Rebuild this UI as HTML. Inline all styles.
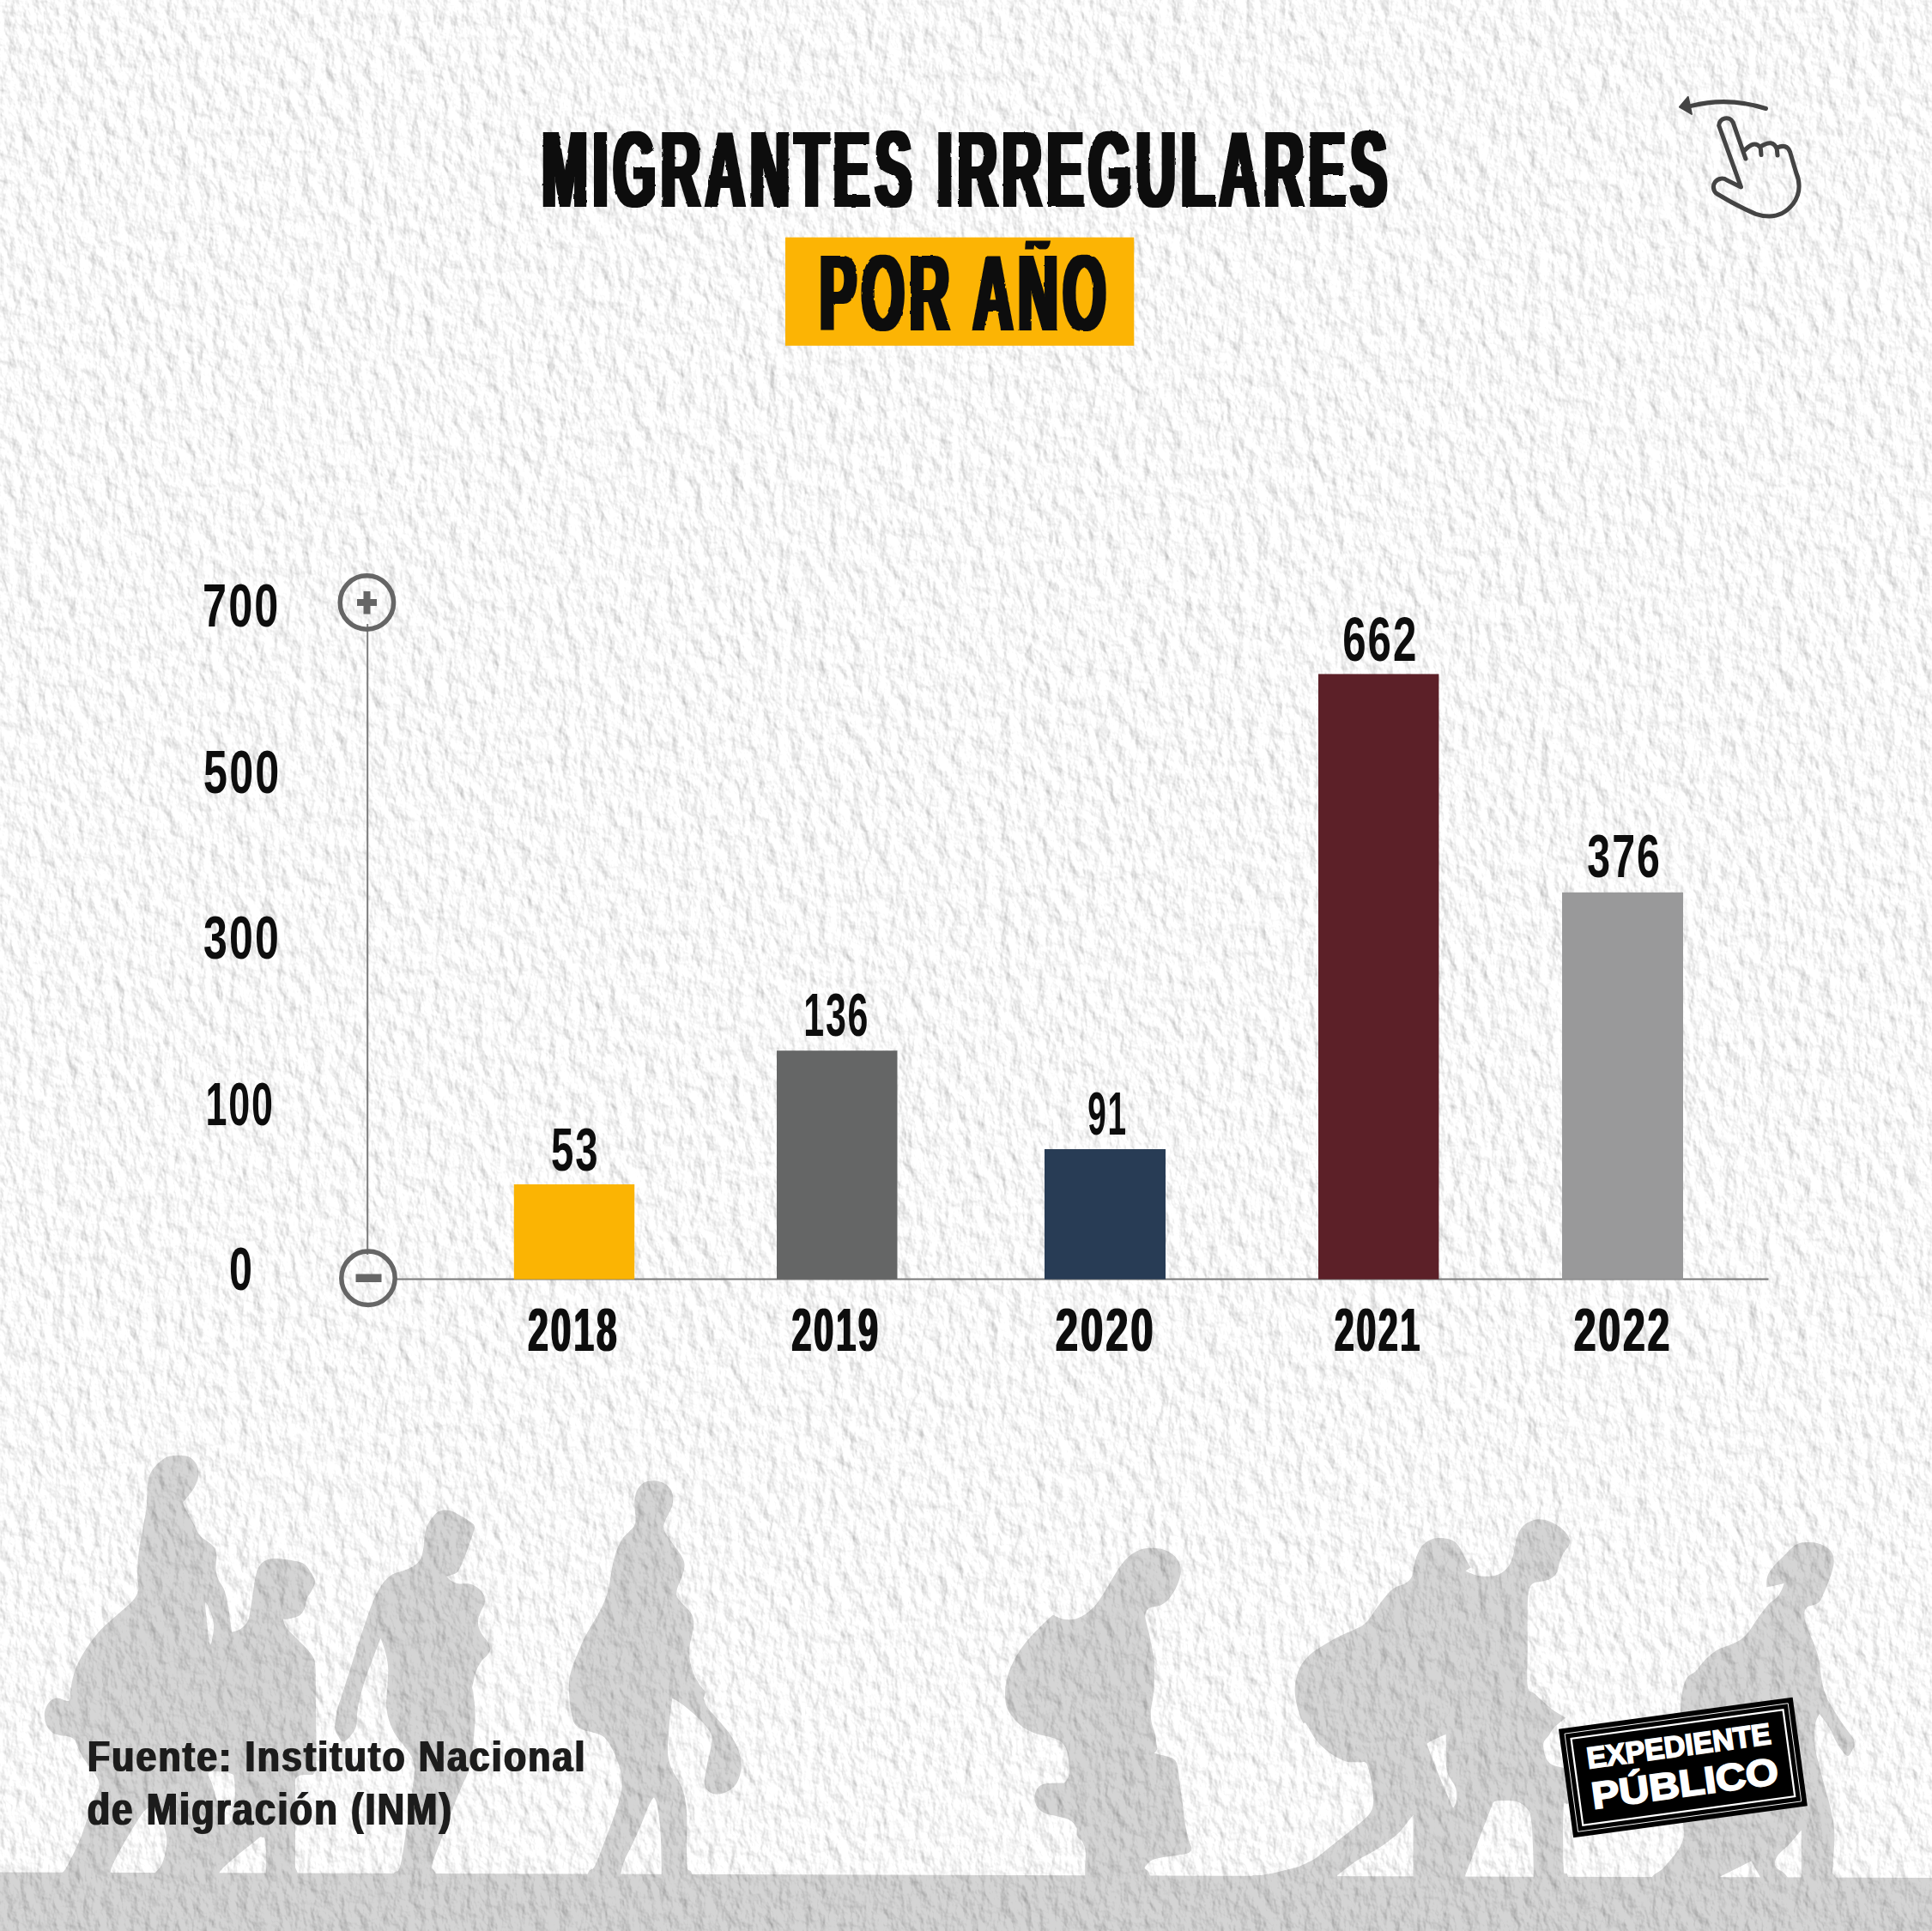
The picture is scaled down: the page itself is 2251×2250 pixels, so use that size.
<!DOCTYPE html>
<html lang="es"><head><meta charset="utf-8"><title>Migrantes irregulares por año</title>
<style>
html,body{margin:0;padding:0;background:#f4f4f4;}
body{width:2251px;height:2250px;overflow:hidden;}
svg{display:block;}
text{font-family:"Liberation Sans",sans-serif;font-weight:700;}
</style></head><body>
<svg width="2251" height="2250" viewBox="0 0 2251 2250">
<defs>
<filter id="d0_4" x="-5%" y="-20%" width="110%" height="140%"><feMorphology operator="dilate" radius="0.4 0" result="m"/><feTurbulence type="fractalNoise" baseFrequency="0.09" numOctaves="2" seed="4" result="t"/><feDisplacementMap in="m" in2="t" scale="1.3" xChannelSelector="R" yChannelSelector="G"/></filter>
<filter id="d1_2" x="-5%" y="-20%" width="110%" height="140%"><feMorphology operator="dilate" radius="1.2 0" result="m"/><feTurbulence type="fractalNoise" baseFrequency="0.09" numOctaves="2" seed="4" result="t"/><feDisplacementMap in="m" in2="t" scale="1.3" xChannelSelector="R" yChannelSelector="G"/></filter>
<filter id="d2_7" x="-5%" y="-20%" width="110%" height="140%"><feMorphology operator="dilate" radius="2.7 0" result="m"/><feTurbulence type="fractalNoise" baseFrequency="0.09" numOctaves="2" seed="4" result="t"/><feDisplacementMap in="m" in2="t" scale="2.2" xChannelSelector="R" yChannelSelector="G"/></filter>
<filter id="dclean" x="-5%" y="-20%" width="110%" height="140%"><feMorphology operator="dilate" radius="0.75 0"/></filter>
<clipPath id="cpt"><rect x="915" y="280.5" width="407" height="125"/></clipPath>
</defs>
<filter id="paper" x="0" y="0" width="100%" height="100%" filterUnits="objectBoundingBox" color-interpolation-filters="sRGB">
<feTurbulence type="fractalNoise" baseFrequency="0.07 0.045" numOctaves="4" seed="11" result="n"/>
<feDiffuseLighting in="n" surfaceScale="1.7" diffuseConstant="1" lighting-color="#fff" result="l"><feDistantLight azimuth="320" elevation="58"/></feDiffuseLighting>
<feColorMatrix in="l" type="matrix" values="0.85 0 0 0 0.255  0.85 0 0 0 0.255  0.85 0 0 0 0.255  0 0 0 0 1"/>
</filter>
<rect width="2251" height="2250" fill="#f4f4f4"/>
<rect x="0" y="0" width="2251" height="2250" fill="#fff" filter="url(#paper)"/>
<g id="people" fill="#000" opacity="0.165">
<path d="M0 2181.5L2251 2188V2250H0Z"/>
<path id="g1" fill-rule="evenodd" d="M198.4 1696.4C203.4 1695.4 212.4 1695.4 217.0 1696.4C221.7 1697.4 224.0 1699.8 226.3 1702.4C228.7 1704.9 230.3 1708.1 231.0 1711.7C231.7 1715.2 231.4 1719.9 230.4 1723.8C229.5 1727.7 227.3 1731.7 225.4 1735.0C223.5 1738.2 220.9 1740.8 218.9 1743.4C216.9 1745.9 213.3 1750.4 213.3 1750.4C213.3 1750.4 214.2 1754.5 216.1 1758.3C218.0 1762.1 221.7 1768.0 224.5 1773.2C227.3 1778.3 229.9 1785.1 232.9 1789.0C235.8 1792.9 239.4 1794.1 242.2 1796.5C245.0 1798.8 247.9 1800.3 249.6 1803.0C251.3 1805.6 252.1 1808.3 252.4 1812.3C252.7 1816.3 251.2 1822.6 251.5 1827.2C251.8 1831.9 252.7 1836.2 254.3 1840.3C255.8 1844.3 259.1 1847.4 260.8 1851.4C262.5 1855.5 263.5 1859.5 264.5 1864.5C265.6 1869.4 266.4 1875.0 267.3 1881.2C268.3 1887.5 270.1 1901.7 270.1 1901.7C270.1 1901.7 277.3 1900.2 280.4 1898.0C283.5 1895.8 286.9 1892.4 288.8 1888.7C290.6 1885.0 290.6 1880.6 291.6 1875.7C292.5 1870.7 293.4 1864.8 294.4 1858.9C295.3 1853.0 296.1 1845.5 297.1 1840.3C298.2 1835.0 299.0 1830.8 300.9 1827.2C302.7 1823.6 305.2 1820.7 308.3 1818.8C311.4 1817.0 314.9 1816.2 319.5 1816.0C324.2 1815.8 330.7 1816.6 336.3 1817.5C341.9 1818.5 348.9 1819.4 353.1 1821.6C357.2 1823.9 359.1 1827.5 361.4 1830.9C363.8 1834.4 366.6 1838.7 367.0 1842.1C367.5 1845.5 365.8 1848.0 364.2 1851.4C362.7 1854.8 359.3 1858.9 357.7 1862.6C356.2 1866.3 356.3 1870.5 354.9 1873.8C353.5 1877.1 352.1 1880.2 349.3 1882.2C346.5 1884.2 341.4 1885.1 338.1 1885.9C334.9 1886.7 329.8 1886.8 329.8 1886.8C329.8 1886.8 330.8 1892.4 333.5 1896.2C336.1 1899.9 341.7 1905.2 345.6 1909.2C349.5 1913.2 353.5 1916.7 356.8 1920.4C360.0 1924.1 363.4 1927.5 365.2 1931.6C367.0 1935.6 367.1 1934.9 367.6 1944.6C368.1 1954.3 367.8 1975.8 368.0 1990.0C368.2 2004.2 368.5 2018.3 368.5 2030.0C368.5 2041.7 368.8 2053.7 368.0 2060.0C367.2 2066.3 364.0 2068.0 364.0 2068.0C364.0 2068.0 353.3 2067.7 350.0 2068.5C346.7 2069.3 344.0 2073.0 344.0 2073.0C344.0 2073.0 344.0 2176.0 344.0 2176.0C344.0 2176.0 345.7 2179.0 347.0 2183.0C348.3 2187.0 352.0 2200.0 352.0 2200.0C352.0 2200.0 60.0 2200.0 60.0 2200.0C60.0 2200.0 62.6 2187.6 65.0 2184.3C67.4 2181.0 71.0 2184.1 74.2 2180.4C77.4 2176.7 81.0 2169.0 84.4 2162.2C87.8 2155.4 91.7 2147.0 94.7 2139.4C97.7 2131.8 99.9 2124.2 102.6 2116.6C105.2 2109.0 108.5 2099.6 110.6 2093.9C112.7 2088.2 114.8 2086.3 115.2 2082.5C115.6 2078.7 115.9 2076.7 112.9 2071.0C109.9 2065.3 100.6 2054.0 97.0 2048.3C93.4 2042.6 92.9 2040.5 91.2 2037.0C89.5 2033.5 88.8 2029.8 87.0 2027.5C85.2 2025.2 83.3 2024.3 80.4 2023.4C77.5 2022.5 73.0 2022.9 69.6 2022.0C66.2 2021.1 62.7 2020.2 60.0 2018.0C57.3 2015.8 54.8 2012.4 53.5 2008.6C52.2 2004.8 51.3 1999.3 52.0 1995.0C52.7 1990.7 55.0 1985.8 57.5 1983.0C60.0 1980.2 63.1 1978.7 66.9 1978.5C70.7 1978.3 77.6 1983.2 80.1 1981.9C82.6 1980.6 81.0 1975.7 81.9 1970.7C82.9 1965.7 83.9 1958.0 85.7 1952.1C87.4 1946.2 89.2 1941.2 92.2 1935.3C95.1 1929.4 99.0 1922.9 103.4 1916.7C107.7 1910.4 112.7 1903.9 118.3 1898.0C123.9 1892.1 131.0 1886.5 136.9 1881.2C142.8 1876.0 149.6 1871.0 153.7 1866.3C157.7 1861.7 160.0 1858.0 161.1 1853.3C162.2 1848.6 160.3 1844.3 160.2 1838.4C160.1 1832.5 160.3 1824.4 160.7 1817.9C161.2 1811.4 162.0 1805.8 163.0 1799.3C164.0 1792.7 165.5 1785.6 166.7 1778.8C168.0 1771.9 169.7 1764.5 170.4 1758.3C171.2 1752.1 171.1 1746.8 171.4 1741.5C171.7 1736.2 171.4 1731.2 172.3 1726.6C173.2 1721.9 174.5 1717.6 177.0 1713.5C179.4 1709.5 183.6 1705.2 187.2 1702.4C190.8 1699.5 193.4 1697.4 198.4 1696.4ZM239.4 1867.3C240.2 1866.3 243.4 1873.6 245.0 1877.5C246.5 1881.4 248.1 1886.2 248.7 1890.6C249.3 1894.9 248.9 1899.3 248.3 1903.6C247.7 1908.0 246.0 1917.3 245.0 1916.7C243.9 1916.0 243.0 1905.5 242.2 1899.9C241.4 1894.3 240.8 1888.5 240.3 1883.1C239.8 1877.7 238.6 1868.2 239.4 1867.3ZM129.6 2177.5C134.0 2164.6 151.9 2134.7 159.4 2122.8C166.9 2110.9 169.9 2107.1 174.3 2106.3C178.7 2105.5 183.2 2114.2 185.9 2117.8C188.7 2121.4 189.4 2123.7 190.8 2127.8C192.2 2132.0 193.9 2137.4 194.2 2142.7C194.5 2147.9 193.6 2154.1 192.5 2159.3C191.4 2164.6 189.7 2170.1 187.5 2174.2C185.3 2178.3 182.3 2179.8 179.3 2184.1C176.3 2188.4 169.3 2200.0 169.3 2200.0C169.3 2200.0 132.9 2200.0 132.9 2200.0C132.9 2200.0 125.2 2190.4 129.6 2177.5ZM243.9 2064.8C247.3 2062.3 263.9 2065.1 268.7 2066.5C273.5 2067.9 272.0 2069.2 272.8 2073.1C273.6 2077.0 273.8 2082.8 273.7 2089.7C273.6 2096.6 273.1 2108.7 272.0 2114.5C270.9 2120.3 268.8 2122.7 267.0 2124.5C265.2 2126.3 262.6 2126.1 261.2 2125.3C259.8 2124.5 261.0 2126.8 258.8 2119.5C256.6 2112.2 250.5 2090.5 248.0 2081.4C245.5 2072.3 240.5 2067.3 243.9 2064.8ZM305.1 2141.0C306.9 2141.3 308.5 2139.4 309.3 2146.0C310.1 2152.6 309.7 2171.8 309.8 2180.8C309.9 2189.8 309.8 2200.0 309.8 2200.0C309.8 2200.0 256.3 2200.0 256.3 2200.0C256.3 2200.0 249.3 2190.1 256.3 2180.8C263.3 2171.5 290.4 2150.9 298.5 2144.3C306.6 2137.7 303.3 2140.7 305.1 2141.0Z"/>
<path id="f2" fill-rule="evenodd" d="M512.7 1760.5C516.1 1759.3 521.0 1759.3 524.8 1760.2C528.7 1761.1 531.8 1763.5 535.6 1765.6C539.4 1767.7 544.9 1770.9 547.7 1773.0C550.6 1775.1 552.3 1776.0 552.9 1778.4C553.4 1780.7 552.2 1783.4 551.1 1787.1C550.0 1790.8 548.1 1795.9 546.4 1800.6C544.7 1805.3 542.8 1810.9 541.0 1815.4C539.2 1819.9 537.2 1824.6 535.6 1827.5C534.0 1830.4 534.2 1831.4 531.6 1832.9C529.0 1834.4 520.1 1836.7 520.1 1836.7C520.1 1836.7 523.8 1840.9 526.2 1842.3C528.6 1843.8 530.7 1844.7 534.3 1845.3C537.9 1845.9 543.9 1844.8 547.7 1845.7C551.6 1846.6 554.5 1848.3 557.2 1850.4C559.9 1852.5 562.7 1855.6 563.9 1858.5C565.1 1861.4 565.1 1864.8 564.6 1867.9C564.0 1871.1 561.8 1874.2 560.5 1877.3C559.3 1880.5 557.6 1883.6 557.2 1886.8C556.7 1889.9 556.9 1893.1 557.8 1896.2C558.7 1899.3 560.8 1902.7 562.5 1905.6C564.3 1908.5 567.2 1911.0 568.6 1913.7C570.1 1916.4 571.4 1919.3 571.3 1921.8C571.2 1924.2 569.6 1926.3 567.9 1928.5C566.3 1930.8 563.2 1932.5 561.2 1935.2C559.2 1937.9 557.3 1941.3 555.8 1944.7C554.4 1948.0 553.3 1951.4 552.5 1955.4C551.6 1959.5 550.7 1964.4 550.4 1968.9C550.2 1973.4 551.2 1983.9 551.1 1982.4C551.0 1980.9 549.5 1960.4 549.7 1960.0C549.9 1959.6 551.7 1973.5 552.4 1980.2C553.0 1986.9 553.7 1993.6 553.7 2000.4C553.7 2007.1 552.9 2013.8 552.4 2020.6C551.8 2027.3 550.9 2035.1 550.3 2040.7C549.8 2046.4 549.9 2049.9 549.0 2054.2C548.1 2058.5 546.7 2061.8 545.0 2066.3C543.2 2070.8 540.5 2076.0 538.2 2081.1C536.0 2086.3 534.0 2091.0 531.5 2097.3C529.0 2103.6 526.1 2111.6 523.4 2118.8C520.7 2126.0 517.8 2133.8 515.3 2140.3C512.9 2146.8 510.5 2152.7 508.6 2157.8C506.7 2163.0 504.8 2168.2 503.9 2171.3C503.0 2174.4 502.7 2174.9 503.2 2176.7C503.8 2178.5 505.8 2178.2 507.3 2182.1C508.7 2185.9 512.0 2200.0 512.0 2200.0C512.0 2200.0 455.0 2200.0 455.0 2200.0C455.0 2200.0 457.3 2186.2 458.8 2182.7C460.4 2179.3 462.7 2181.7 464.2 2179.4C465.7 2177.0 466.4 2173.8 467.6 2168.6C468.7 2163.4 469.7 2156.3 470.9 2148.4C472.2 2140.6 473.6 2130.5 475.0 2121.5C476.3 2112.5 477.9 2102.4 479.0 2094.6C480.1 2086.7 481.0 2080.2 481.7 2074.4C482.4 2068.6 483.5 2064.3 483.0 2059.6C482.6 2054.9 481.3 2050.6 479.0 2046.1C476.8 2041.6 473.0 2037.4 469.6 2032.7C466.2 2028.0 461.7 2023.3 458.8 2017.9C455.9 2012.5 453.7 2006.7 452.1 2000.4C450.5 1994.1 449.7 1983.2 449.4 1980.2C449.1 1977.2 449.8 1985.4 450.1 1982.4C450.5 1979.4 451.1 1968.9 451.5 1962.2C451.8 1955.4 452.7 1948.7 452.1 1942.0C451.6 1935.2 449.6 1927.3 448.1 1921.8C446.6 1916.3 443.4 1909.0 443.4 1909.0C443.4 1909.0 438.6 1921.7 436.0 1928.5C433.4 1935.4 430.4 1942.9 427.9 1950.1C425.4 1957.2 423.1 1964.3 421.2 1971.6C419.3 1978.9 417.4 1987.1 416.4 1993.6C415.4 2000.2 416.3 2006.4 415.1 2011.1C413.9 2015.9 411.5 2018.9 409.0 2021.9C406.6 2024.9 402.7 2029.1 400.3 2029.3C397.8 2029.5 395.9 2025.8 394.2 2023.3C392.5 2020.7 390.6 2017.6 390.2 2013.8C389.7 2010.0 391.1 2004.0 391.5 2000.4C392.0 1996.7 391.5 1996.6 392.9 1991.8C394.2 1987.0 397.4 1978.6 399.6 1971.6C401.9 1964.6 404.1 1957.2 406.4 1950.1C408.6 1942.9 410.8 1935.5 413.1 1928.5C415.3 1921.6 417.6 1915.0 419.8 1908.3C422.1 1901.6 424.3 1894.6 426.6 1888.1C428.8 1881.6 431.0 1874.9 433.3 1869.3C435.5 1863.7 437.5 1858.9 440.0 1854.5C442.5 1850.0 445.2 1845.7 448.1 1842.3C451.0 1839.0 453.9 1836.3 457.5 1834.3C461.1 1832.2 465.6 1831.8 469.6 1830.2C473.7 1828.6 478.4 1827.1 481.8 1824.8C485.1 1822.6 487.9 1820.1 489.8 1816.8C491.7 1813.4 492.4 1808.9 493.2 1804.6C494.0 1800.4 493.8 1795.7 494.6 1791.2C495.3 1786.7 496.2 1781.7 497.9 1777.7C499.6 1773.7 502.2 1769.8 504.6 1766.9C507.1 1764.1 509.4 1761.6 512.7 1760.5Z"/>
<path id="f3" fill-rule="evenodd" d="M761.2 1725.3C764.8 1725.3 768.8 1726.2 772.0 1727.6C775.1 1729.0 778.0 1731.1 780.0 1733.7C782.1 1736.2 783.5 1739.7 784.1 1743.1C784.6 1746.5 784.2 1750.5 783.4 1753.9C782.6 1757.2 780.7 1760.4 779.4 1763.3C778.0 1766.2 776.3 1768.7 775.3 1771.4C774.3 1774.1 773.2 1776.8 773.3 1779.4C773.4 1782.1 774.4 1784.6 776.0 1787.5C777.6 1790.4 780.5 1793.8 782.7 1796.9C785.0 1800.1 787.4 1803.5 789.5 1806.4C791.5 1809.3 793.5 1811.8 794.8 1814.5C796.2 1817.1 797.3 1819.6 797.5 1822.5C797.8 1825.4 797.1 1828.6 796.2 1832.0C795.3 1835.3 793.4 1839.4 792.2 1842.7C790.9 1846.1 789.3 1849.2 788.8 1852.2C788.2 1855.1 788.0 1857.8 788.8 1860.2C789.6 1862.7 791.6 1864.7 793.5 1867.0C795.4 1869.2 798.1 1871.2 800.2 1873.7C802.4 1876.2 804.9 1878.6 806.3 1881.8C807.6 1884.9 808.3 1888.7 808.3 1892.5C808.3 1896.4 807.1 1900.4 806.3 1904.7C805.5 1908.9 804.0 1913.4 803.6 1918.1C803.2 1922.8 803.0 1928.0 803.6 1932.9C804.2 1937.9 806.2 1944.8 807.0 1947.8C807.8 1950.7 807.0 1948.2 808.3 1950.8C809.7 1953.3 812.7 1959.4 815.0 1962.9C817.4 1966.4 822.5 1971.6 822.5 1971.6C822.5 1971.6 819.8 1979.0 819.8 1979.0C819.8 1979.0 822.3 1986.5 824.5 1989.8C826.6 1993.2 829.6 1995.9 832.5 1999.2C835.5 2002.6 838.8 2006.2 842.0 2010.0C845.1 2013.8 848.5 2017.6 851.4 2022.1C854.3 2026.6 857.5 2031.8 859.5 2036.9C861.5 2042.1 863.1 2047.9 863.5 2053.1C864.0 2058.3 863.3 2063.4 862.2 2067.9C861.1 2072.4 859.3 2076.8 856.8 2080.0C854.3 2083.3 851.0 2085.6 847.4 2087.4C843.8 2089.2 838.8 2090.8 835.2 2090.8C831.7 2090.8 828.2 2089.2 825.8 2087.4C823.5 2085.6 821.8 2083.5 821.1 2080.0C820.4 2076.6 821.1 2071.5 821.8 2066.6C822.5 2061.6 824.0 2055.8 825.1 2050.4C826.3 2045.0 827.8 2038.7 828.5 2034.3C829.2 2029.8 829.9 2026.8 829.2 2023.5C828.5 2020.1 826.8 2017.4 824.5 2014.1C822.1 2010.7 818.9 2007.1 815.0 2003.3C811.2 1999.5 805.6 1994.5 801.6 1991.2C797.5 1987.8 793.8 1985.1 790.8 1983.1C787.8 1981.1 783.4 1979.0 783.4 1979.0C783.4 1979.0 782.1 1987.8 781.4 1993.9C780.7 1999.9 779.9 2008.7 779.4 2015.4C778.8 2022.1 778.1 2028.9 778.0 2034.3C777.9 2039.6 777.9 2043.2 778.7 2047.7C779.5 2052.2 780.9 2056.9 782.7 2061.2C784.5 2065.4 787.4 2069.5 789.5 2073.3C791.5 2077.1 793.4 2080.3 794.8 2084.1C796.3 2087.9 797.3 2091.0 798.2 2096.2C799.1 2101.4 799.9 2107.4 800.2 2115.0C800.6 2122.7 800.2 2133.0 800.2 2142.0C800.2 2151.0 800.0 2162.8 800.2 2168.9C800.5 2175.0 800.7 2176.2 801.6 2178.3C802.5 2180.5 804.2 2178.1 805.6 2181.7C807.0 2185.3 810.0 2200.0 810.0 2200.0C810.0 2200.0 771.3 2200.0 771.3 2200.0C771.3 2200.0 770.8 2178.6 770.6 2168.9C770.4 2159.2 770.4 2150.5 769.9 2142.0C769.5 2133.4 768.7 2124.5 767.9 2117.7C767.1 2111.0 766.2 2105.5 765.2 2101.6C764.2 2097.7 761.9 2094.2 761.9 2094.2C761.9 2094.2 759.5 2096.5 757.1 2101.6C754.8 2106.6 751.1 2116.6 747.7 2124.5C744.4 2132.3 740.5 2140.9 736.9 2148.7C733.4 2156.6 728.9 2163.0 726.2 2171.6C723.5 2180.1 720.8 2200.0 720.8 2200.0C720.8 2200.0 680.0 2200.0 680.0 2200.0C680.0 2200.0 683.9 2184.9 685.8 2181.0C687.6 2177.2 689.4 2179.5 691.2 2177.0C693.0 2174.5 694.5 2170.9 696.6 2166.2C698.6 2161.5 701.0 2154.5 703.3 2148.7C705.5 2142.9 707.8 2137.3 710.0 2131.2C712.3 2125.1 714.7 2118.4 716.8 2112.4C718.8 2106.3 720.8 2100.2 722.1 2094.8C723.5 2089.5 724.6 2084.7 724.8 2080.0C725.1 2075.3 724.4 2071.3 723.5 2066.6C722.6 2061.9 721.2 2056.7 719.4 2051.8C717.6 2046.8 715.2 2041.4 712.7 2036.9C710.2 2032.5 707.8 2027.7 704.6 2024.8C701.5 2021.9 698.1 2021.0 693.9 2019.4C689.6 2017.9 683.1 2017.2 679.0 2015.4C675.0 2013.6 671.8 2011.6 669.6 2008.7C667.5 2005.8 667.3 2002.6 666.3 1997.9C665.2 1993.2 664.1 1986.7 663.6 1980.4C663.0 1974.1 662.6 1965.9 662.9 1960.2C663.2 1954.5 664.2 1951.2 665.6 1946.4C666.9 1941.6 668.9 1936.8 671.0 1931.6C673.0 1926.4 675.5 1920.4 677.7 1915.4C679.9 1910.5 682.0 1906.5 684.4 1902.0C686.9 1897.5 689.8 1893.2 692.5 1888.5C695.2 1883.8 698.1 1878.9 700.6 1873.7C703.1 1868.5 705.6 1862.9 707.3 1857.5C709.0 1852.2 709.7 1846.8 710.7 1841.4C711.7 1836.0 712.4 1830.2 713.4 1825.2C714.4 1820.3 715.5 1815.8 716.8 1811.8C718.0 1807.7 719.2 1804.4 720.8 1801.0C722.4 1797.6 724.2 1794.3 726.2 1791.6C728.2 1788.9 730.8 1787.1 732.9 1784.8C735.0 1782.6 737.7 1780.6 739.0 1778.1C740.3 1775.6 740.6 1773.4 740.7 1770.0C740.8 1766.7 739.8 1761.9 739.6 1757.9C739.5 1753.9 739.1 1749.6 739.6 1745.8C740.2 1742.0 741.2 1738.0 743.0 1735.0C744.8 1732.0 747.4 1729.2 750.4 1727.6C753.4 1726.0 757.6 1725.3 761.2 1725.3Z"/>
<path id="f4" fill-rule="evenodd" d="M1336.0 1804.0C1340.6 1803.5 1346.7 1803.6 1351.3 1804.5C1356.0 1805.4 1360.4 1807.1 1363.9 1809.4C1367.4 1811.6 1370.3 1814.5 1372.3 1817.8C1374.3 1821.0 1375.6 1825.0 1375.8 1828.9C1376.0 1832.9 1375.0 1837.3 1373.7 1841.5C1372.4 1845.7 1370.2 1850.4 1368.1 1854.1C1366.0 1857.8 1363.7 1861.2 1361.1 1863.9C1358.6 1866.6 1355.8 1868.7 1352.7 1870.2C1349.7 1871.6 1345.5 1871.7 1343.0 1872.6C1340.4 1873.4 1338.8 1873.5 1337.4 1875.1C1335.9 1876.7 1334.5 1879.3 1334.3 1882.1C1334.0 1884.9 1335.2 1888.4 1336.0 1891.9C1336.7 1895.4 1337.8 1898.8 1338.8 1903.0C1339.7 1907.2 1340.6 1911.9 1341.6 1917.0C1342.5 1922.2 1343.8 1927.5 1344.3 1933.8C1344.9 1940.1 1345.2 1947.8 1345.0 1954.8C1344.9 1961.8 1344.3 1969.5 1343.7 1975.7C1343.0 1982.0 1341.2 1987.4 1340.9 1992.5C1340.5 1997.7 1340.7 2001.8 1341.6 2006.5C1342.4 2011.2 1344.7 2015.8 1345.7 2020.5C1346.8 2025.2 1347.4 2031.5 1347.8 2034.5C1348.2 2037.4 1348.6 2036.7 1348.2 2038.1C1347.7 2039.6 1345.0 2043.0 1345.0 2043.0C1345.0 2043.0 1354.7 2045.0 1358.6 2046.2C1362.5 2047.4 1366.0 2048.0 1368.2 2050.2C1370.5 2052.3 1371.2 2054.3 1372.2 2059.0C1373.3 2063.7 1373.7 2071.0 1374.6 2078.3C1375.6 2085.5 1376.8 2094.3 1377.9 2102.3C1378.9 2110.3 1379.9 2119.4 1381.1 2126.4C1382.3 2133.3 1383.9 2139.5 1385.1 2144.0C1386.3 2148.6 1388.4 2151.1 1388.3 2153.7C1388.1 2156.2 1387.1 2157.9 1384.3 2159.3C1381.5 2160.6 1376.2 2160.9 1371.4 2161.7C1366.6 2162.5 1360.2 2163.2 1355.4 2164.1C1350.6 2165.0 1345.8 2165.8 1342.6 2167.3C1339.3 2168.8 1337.6 2171.3 1336.1 2172.9C1334.7 2174.5 1333.3 2175.5 1333.7 2176.9C1334.1 2178.4 1336.7 2177.9 1338.5 2181.7C1340.4 2185.6 1345.0 2200.0 1345.0 2200.0C1345.0 2200.0 1264.2 2197.0 1264.2 2197.0C1264.2 2197.0 1264.2 2181.2 1264.2 2174.5C1264.3 2167.8 1265.3 2161.7 1264.7 2156.9C1264.1 2152.1 1262.3 2148.6 1260.7 2145.6C1259.1 2142.7 1256.2 2141.9 1255.1 2139.2C1254.0 2136.6 1255.8 2132.7 1254.3 2129.6C1252.8 2126.5 1249.8 2122.9 1246.3 2120.8C1242.8 2118.6 1238.3 2118.1 1233.4 2116.8C1228.6 2115.4 1221.5 2114.6 1217.4 2112.8C1213.2 2110.9 1210.6 2108.6 1208.6 2105.5C1206.6 2102.5 1205.2 2098.0 1205.4 2094.3C1205.5 2090.6 1207.1 2085.7 1209.4 2083.1C1211.6 2080.4 1213.9 2079.2 1219.0 2078.3C1224.1 2077.3 1239.9 2077.5 1239.9 2077.5C1239.9 2077.5 1243.7 2074.1 1244.7 2070.2C1245.6 2066.4 1245.9 2059.5 1245.5 2054.2C1245.1 2048.8 1244.0 2042.4 1242.3 2038.1C1240.5 2033.9 1238.4 2030.9 1235.0 2028.5C1231.7 2026.1 1227.0 2025.2 1222.2 2023.7C1217.4 2022.2 1211.2 2021.6 1206.2 2019.7C1201.1 2017.8 1196.0 2015.5 1191.7 2012.5C1187.4 2009.4 1183.6 2005.0 1180.5 2001.2C1177.4 1997.4 1174.7 1994.2 1173.1 1989.7C1171.5 1985.2 1171.1 1979.5 1171.0 1974.3C1170.9 1969.2 1171.3 1964.1 1172.4 1959.0C1173.4 1953.8 1175.2 1948.7 1177.3 1943.6C1179.4 1938.5 1182.0 1933.1 1185.0 1928.2C1187.9 1923.3 1191.2 1918.7 1194.7 1914.2C1198.2 1909.8 1202.2 1905.6 1205.9 1901.6C1209.7 1897.7 1213.6 1893.8 1217.1 1890.5C1220.6 1887.1 1226.9 1881.4 1226.9 1881.4C1226.9 1881.4 1231.3 1883.9 1233.9 1884.9C1236.5 1885.8 1239.0 1886.7 1242.3 1887.0C1245.5 1887.2 1249.7 1887.3 1253.5 1886.3C1257.2 1885.2 1260.9 1883.2 1264.7 1880.7C1268.4 1878.1 1272.3 1874.8 1275.8 1870.9C1279.3 1866.9 1282.6 1861.6 1285.6 1856.9C1288.7 1852.2 1291.2 1847.6 1294.0 1842.9C1296.8 1838.3 1299.4 1833.4 1302.4 1828.9C1305.4 1824.5 1308.7 1819.8 1312.2 1816.4C1315.7 1812.9 1319.4 1810.0 1323.4 1808.0C1327.3 1805.9 1331.3 1804.6 1336.0 1804.0Z"/>
<path id="f5" fill-rule="evenodd" d="M1668.9 1793.2C1673.2 1791.9 1679.4 1791.9 1683.8 1792.5C1688.1 1793.0 1691.9 1794.3 1695.0 1796.6C1698.1 1798.8 1700.4 1802.8 1702.4 1805.9C1704.4 1809.0 1705.2 1811.8 1707.1 1815.2C1708.9 1818.6 1713.6 1826.4 1713.6 1826.4C1713.6 1826.4 1707.6 1830.5 1707.6 1830.5C1707.6 1830.5 1716.3 1834.7 1721.1 1835.7C1725.8 1836.7 1731.6 1837.0 1736.0 1836.6C1740.3 1836.3 1743.7 1835.6 1747.1 1833.9C1750.6 1832.1 1754.0 1829.5 1756.5 1826.4C1759.0 1823.3 1760.7 1819.3 1762.1 1815.2C1763.5 1811.2 1763.8 1806.8 1764.9 1802.2C1765.9 1797.5 1766.6 1791.6 1768.6 1787.3C1770.6 1782.9 1773.4 1778.9 1777.0 1776.1C1780.5 1773.3 1785.3 1771.1 1790.0 1770.5C1794.7 1769.9 1800.3 1770.8 1804.9 1772.4C1809.6 1773.9 1814.2 1776.9 1818.0 1779.8C1821.7 1782.8 1825.6 1786.6 1827.3 1790.1C1829.0 1793.5 1829.1 1797.1 1828.2 1800.3C1827.3 1803.6 1823.5 1806.2 1821.7 1809.6C1819.8 1813.0 1818.3 1817.1 1817.0 1820.8C1815.8 1824.5 1815.9 1828.9 1814.2 1832.0C1812.5 1835.1 1809.9 1837.6 1806.8 1839.4C1803.7 1841.2 1799.0 1841.9 1795.6 1842.8C1792.2 1843.7 1788.6 1843.4 1786.3 1845.0C1784.0 1846.6 1782.7 1848.1 1781.6 1852.5C1780.5 1856.8 1780.1 1860.3 1779.8 1871.1C1779.4 1882.0 1779.8 1902.2 1779.8 1917.7C1779.8 1933.2 1778.4 1955.0 1779.8 1964.3C1781.2 1973.6 1783.6 1969.3 1788.1 1973.6C1792.6 1978.0 1800.7 1985.7 1806.8 1990.4C1812.8 1995.0 1824.5 2001.6 1824.5 2001.6C1824.5 2001.6 1813.7 2009.9 1810.5 2013.3C1807.3 2016.7 1807.0 2018.8 1805.0 2021.7C1803.0 2024.7 1799.2 2027.0 1798.4 2031.0C1797.6 2035.0 1798.9 2041.9 1800.3 2045.9C1801.7 2049.9 1803.8 2053.0 1806.8 2055.2C1809.8 2057.4 1813.1 2057.9 1818.0 2059.0C1822.9 2060.1 1836.0 2062.0 1836.0 2062.0C1836.0 2062.0 1836.0 2100.0 1836.0 2100.0C1836.0 2100.0 1828.4 2100.7 1826.0 2102.0C1823.6 2103.3 1822.4 2095.7 1821.7 2108.0C1821.0 2120.3 1821.0 2163.3 1821.7 2176.0C1822.4 2188.7 1824.3 2180.0 1826.0 2184.0C1827.7 2188.0 1832.0 2200.0 1832.0 2200.0C1832.0 2200.0 1787.2 2200.6 1787.2 2200.6C1787.2 2200.6 1786.7 2170.4 1786.3 2157.7C1785.8 2145.0 1785.3 2132.2 1784.4 2124.2C1783.5 2116.1 1783.2 2113.3 1780.7 2109.3C1778.2 2105.2 1773.9 2101.8 1769.5 2099.9C1765.2 2098.1 1759.3 2098.2 1754.6 2098.1C1749.9 2097.9 1744.4 2097.8 1741.6 2099.0C1738.8 2100.3 1739.7 2101.3 1737.8 2105.5C1736.0 2109.7 1733.5 2116.1 1730.4 2124.2C1727.3 2132.2 1723.0 2143.8 1719.2 2154.0C1715.3 2164.1 1707.3 2185.1 1707.3 2185.1C1707.3 2185.1 1707.3 2200.6 1707.3 2200.6C1707.3 2200.6 1646.5 2200.6 1646.5 2200.6C1646.5 2200.6 1646.5 2153.4 1646.5 2139.1C1646.5 2124.8 1646.5 2114.8 1646.5 2114.8C1646.5 2114.8 1642.2 2120.4 1639.1 2124.2C1636.0 2127.9 1633.5 2132.2 1627.9 2137.2C1622.3 2142.2 1613.6 2148.7 1605.5 2154.0C1597.5 2159.3 1587.3 2163.7 1579.4 2168.9C1571.6 2174.1 1558.2 2185.1 1558.2 2185.1C1558.2 2185.1 1558.2 2200.6 1558.2 2200.6C1558.2 2200.6 1455.0 2200.0 1455.0 2200.0C1455.0 2200.0 1455.9 2188.5 1458.3 2186.0C1460.7 2183.5 1465.8 2185.4 1469.5 2184.9C1473.2 2184.4 1477.3 2183.7 1480.7 2183.0C1484.1 2182.4 1487.2 2181.7 1490.0 2181.0C1492.8 2180.3 1493.4 2180.2 1497.5 2179.1C1501.5 2178.0 1508.3 2176.8 1514.2 2174.5C1520.1 2172.1 1527.0 2168.9 1532.9 2165.2C1538.8 2161.4 1543.7 2156.8 1549.6 2152.1C1555.5 2147.5 1562.1 2142.2 1568.3 2137.2C1574.5 2132.2 1581.9 2127.0 1586.9 2122.3C1591.9 2117.6 1595.9 2114.5 1598.1 2109.3C1600.3 2104.0 1600.3 2097.5 1599.9 2090.6C1599.6 2083.8 1597.6 2074.3 1596.2 2068.3C1594.8 2062.2 1593.7 2056.8 1591.6 2054.3C1589.4 2051.8 1587.1 2053.7 1583.2 2053.4C1579.3 2053.0 1573.5 2054.0 1568.3 2052.4C1563.0 2050.9 1557.1 2047.9 1551.5 2044.0C1545.9 2040.2 1539.7 2035.0 1534.7 2029.1C1529.8 2023.2 1524.5 2012.3 1521.7 2008.6C1518.9 2005.0 1519.7 2010.5 1518.0 2007.1C1516.2 2003.8 1513.0 1994.7 1511.4 1988.5C1509.9 1982.3 1508.8 1975.5 1508.6 1969.9C1508.5 1964.3 1509.3 1959.9 1510.5 1955.0C1511.7 1950.0 1513.3 1944.7 1516.1 1940.1C1518.9 1935.4 1522.6 1931.1 1527.3 1927.0C1531.9 1923.0 1538.4 1919.3 1544.0 1915.8C1549.6 1912.4 1555.2 1909.3 1560.8 1906.5C1566.4 1903.7 1572.6 1901.6 1577.6 1899.1C1582.5 1896.6 1586.6 1895.3 1590.6 1891.6C1594.7 1887.9 1598.1 1881.7 1601.8 1876.7C1605.5 1871.7 1609.3 1866.2 1613.0 1861.8C1616.7 1857.5 1620.1 1853.4 1624.2 1850.6C1628.2 1847.8 1633.8 1847.2 1637.2 1845.0C1640.6 1842.9 1643.0 1841.0 1644.7 1837.6C1646.4 1834.2 1646.4 1828.9 1647.5 1824.5C1648.5 1820.2 1649.5 1815.5 1651.2 1811.5C1652.9 1807.5 1654.8 1803.4 1657.7 1800.3C1660.7 1797.3 1664.5 1794.5 1668.9 1793.2ZM1684.7 2020.7C1684.7 2020.7 1668.6 2027.4 1665.2 2030.1C1661.7 2032.7 1662.4 2030.2 1664.2 2036.6C1666.1 2043.0 1672.5 2058.6 1676.3 2068.3C1680.2 2077.9 1684.7 2088.0 1687.5 2094.4C1690.3 2100.7 1693.1 2106.5 1693.1 2106.5C1693.1 2106.5 1696.4 2102.0 1696.8 2098.1C1697.3 2094.2 1697.5 2088.1 1695.9 2083.2C1694.4 2078.2 1689.4 2072.9 1687.5 2068.3C1685.7 2063.6 1684.7 2055.2 1684.7 2055.2C1684.7 2055.2 1684.7 2020.7 1684.7 2020.7Z"/>
<path id="f7" fill-rule="evenodd" d="M2098.9 1797.6C2103.3 1796.7 2110.0 1796.9 2114.7 1797.6C2119.4 1798.3 2123.6 1799.9 2127.0 1802.0C2130.4 1804.1 2133.3 1806.8 2134.9 1809.9C2136.5 1813.0 2136.8 1816.7 2136.7 1820.5C2136.5 1824.3 2135.2 1828.7 2134.1 1832.8C2132.9 1836.9 2131.1 1841.3 2129.7 1845.1C2128.2 1848.9 2126.9 1852.2 2125.3 1855.7C2123.6 1859.2 2121.9 1863.9 2120.0 1866.2C2118.1 1868.6 2116.2 1868.7 2113.8 1869.7C2111.5 1870.8 2107.8 1870.9 2105.9 1872.4C2104.0 1873.9 2102.8 1875.8 2102.4 1878.5C2101.9 1881.3 2102.4 1885.3 2103.3 1889.1C2104.1 1892.9 2106.0 1897.3 2107.7 1901.4C2109.3 1905.5 2111.3 1909.6 2112.9 1913.7C2114.5 1917.9 2116.2 1922.0 2117.3 1926.1C2118.5 1930.2 2119.2 1934.0 2120.0 1938.4C2120.7 1942.8 2121.0 1947.8 2121.7 1952.5C2122.5 1957.2 2123.2 1962.1 2124.4 1966.5C2125.5 1970.9 2126.9 1974.8 2128.8 1978.9C2130.7 1983.0 2133.2 1986.8 2135.8 1991.2C2138.5 1995.6 2141.7 2000.9 2144.6 2005.3C2147.5 2009.7 2150.9 2014.1 2153.4 2017.6C2155.9 2021.1 2158.4 2023.4 2159.6 2026.4C2160.7 2029.3 2160.5 2033.4 2160.5 2035.2C2160.4 2036.9 2160.8 2034.9 2159.5 2036.7C2158.2 2038.5 2155.6 2046.8 2152.5 2046.0C2149.4 2045.2 2144.3 2037.5 2140.8 2032.0C2137.3 2026.5 2135.0 2019.1 2131.5 2013.3C2128.0 2007.5 2119.8 1997.0 2119.8 1997.0C2119.8 1997.0 2115.8 2003.4 2115.0 2010.0C2114.2 2016.6 2113.6 2026.4 2115.0 2036.7C2116.4 2047.0 2120.4 2060.0 2123.3 2071.7C2126.2 2083.4 2130.4 2096.2 2132.7 2106.7C2135.0 2117.2 2136.8 2124.6 2137.3 2134.7C2137.9 2144.8 2136.4 2159.6 2136.0 2167.4C2135.6 2175.2 2134.6 2178.2 2135.0 2181.4C2135.4 2184.6 2137.3 2183.5 2138.5 2186.6C2139.7 2189.7 2142.0 2200.0 2142.0 2200.0C2142.0 2200.0 2098.8 2200.0 2098.8 2200.0C2098.8 2200.0 2098.8 2132.4 2098.8 2132.4C2098.8 2132.4 2089.5 2143.6 2084.8 2148.7C2080.1 2153.8 2073.5 2158.4 2070.8 2162.7C2068.1 2167.0 2067.0 2170.9 2068.5 2174.4C2070.0 2177.9 2076.4 2179.5 2080.0 2183.8C2083.6 2188.1 2090.0 2200.0 2090.0 2200.0C2090.0 2200.0 2051.0 2200.0 2051.0 2200.0C2051.0 2200.0 2051.0 2187.3 2051.0 2187.3C2051.0 2187.3 2040.4 2168.6 2040.4 2168.6C2040.4 2168.6 2003.0 2187.3 2003.0 2187.3C2003.0 2187.3 2003.0 2200.0 2003.0 2200.0C2003.0 2200.0 1920.0 2200.0 1920.0 2200.0C1920.0 2200.0 1922.7 2189.9 1926.0 2185.6C1929.3 2181.3 1934.2 2181.5 1940.0 2174.4C1945.8 2167.3 1958.0 2155.4 1961.0 2143.0C1964.0 2130.6 1958.7 2117.2 1958.0 2100.0C1957.3 2082.8 1957.0 2058.1 1957.0 2040.0C1957.0 2021.9 1957.6 2002.2 1958.1 1991.2C1958.5 1980.1 1959.1 1978.6 1959.8 1973.6C1960.6 1968.6 1961.3 1964.6 1962.5 1961.3C1963.6 1957.9 1964.7 1955.7 1966.9 1953.3C1969.1 1951.0 1973.0 1949.7 1975.7 1947.2C1978.3 1944.7 1980.1 1941.3 1982.7 1938.4C1985.4 1935.4 1988.3 1932.4 1991.5 1929.6C1994.7 1926.8 1998.0 1923.9 2002.1 1921.7C2006.2 1919.5 2011.7 1918.3 2016.1 1916.4C2020.5 1914.5 2024.9 1912.7 2028.5 1910.2C2032.0 1907.7 2034.6 1904.7 2037.3 1901.4C2039.9 1898.2 2041.7 1894.7 2044.3 1890.9C2046.9 1887.1 2050.2 1882.4 2053.1 1878.5C2056.0 1874.7 2059.0 1870.9 2061.9 1868.0C2064.8 1865.1 2068.4 1863.6 2070.7 1861.0C2073.0 1858.3 2074.7 1854.8 2076.0 1852.2C2077.3 1849.5 2078.6 1845.1 2078.6 1845.1C2078.6 1845.1 2070.6 1847.0 2067.2 1847.8C2063.8 1848.5 2058.4 1849.5 2058.4 1849.5C2058.4 1849.5 2057.9 1844.4 2058.4 1841.6C2058.8 1838.8 2059.3 1836.0 2061.0 1832.8C2062.8 1829.6 2065.9 1825.8 2068.9 1822.2C2072.0 1818.7 2076.3 1814.9 2079.5 1811.7C2082.7 1808.5 2085.1 1805.2 2088.3 1802.9C2091.5 1800.5 2094.5 1798.5 2098.9 1797.6Z"/>
</g>
<!-- title highlight -->
<rect x="915" y="276.6" width="406.3" height="126.2" fill="#fcb404"/>
<!-- axes -->
<g stroke="#7a7a7a" stroke-width="2" fill="none">
<line x1="428.2" y1="727" x2="428.2" y2="1462"/>
<line x1="462" y1="1490.6" x2="2060.5" y2="1490.6"/>
</g>
<g fill="none" stroke="#666" stroke-width="5.5">
<circle cx="427.4" cy="702" r="31.2"/>
<circle cx="429" cy="1489.3" r="31.2"/>
</g>
<g fill="#666">
<rect x="416" y="698" width="23" height="8"/>
<rect x="423.5" y="689" width="8" height="26.5"/>
<rect x="414.5" y="1484.5" width="30" height="9.5"/>
</g>
<!-- bars -->
<rect x="598.8" y="1380" width="140.4" height="110.6" fill="#fbb403"/>
<rect x="905" y="1224.2" width="140.5" height="266.4" fill="#656666"/>
<rect x="1217" y="1339" width="141" height="151.6" fill="#283c55"/>
<rect x="1536" y="785.4" width="140.4" height="705.2" fill="#5c2028"/>
<rect x="1820" y="1039.8" width="141" height="450.8" fill="#99999a"/>
<text id="t1" x="631.60" y="241.00" font-size="125.72" letter-spacing="12" textLength="990.40" lengthAdjust="spacingAndGlyphs" fill="#0d0d0d" filter="url(#d2_7)">MIGRANTES IRREGULARES</text>
<text id="t2" x="955.00" y="385.40" font-size="126.81" letter-spacing="12" textLength="339.50" lengthAdjust="spacingAndGlyphs" fill="#0d0d0d" filter="url(#d2_7)" clip-path="url(#cpt)">POR AÑO</text>
<text id="y700" x="236.00" y="730.30" font-size="70.97" letter-spacing="3" textLength="90.50" lengthAdjust="spacingAndGlyphs" fill="#111" filter="url(#d0_4)">700</text>
<text id="y500" x="237.00" y="923.70" font-size="70.97" letter-spacing="3" textLength="90.40" lengthAdjust="spacingAndGlyphs" fill="#111" filter="url(#d0_4)">500</text>
<text id="y300" x="237.00" y="1116.70" font-size="70.97" letter-spacing="3" textLength="90.00" lengthAdjust="spacingAndGlyphs" fill="#111" filter="url(#d0_4)">300</text>
<text id="y100" x="239.40" y="1311.00" font-size="71.02" letter-spacing="3" textLength="80.60" lengthAdjust="spacingAndGlyphs" fill="#111" filter="url(#d0_4)">100</text>
<text id="y0" x="267.00" y="1502.50" font-size="71.02" letter-spacing="3" textLength="29.00" lengthAdjust="spacingAndGlyphs" fill="#111" filter="url(#d0_4)">0</text>
<text id="v53" x="642.00" y="1363.80" font-size="69.75" letter-spacing="3" textLength="56.70" lengthAdjust="spacingAndGlyphs" fill="#111" filter="url(#d0_4)">53</text>
<text id="v136" x="936.20" y="1206.80" font-size="70.53" letter-spacing="3" textLength="77.10" lengthAdjust="spacingAndGlyphs" fill="#111" filter="url(#d0_4)">136</text>
<text id="v91" x="1267.20" y="1322.40" font-size="71.26" letter-spacing="3" textLength="46.50" lengthAdjust="spacingAndGlyphs" fill="#111" filter="url(#d0_4)">91</text>
<text id="v662" x="1564.20" y="769.50" font-size="71.41" letter-spacing="3" textLength="88.30" lengthAdjust="spacingAndGlyphs" fill="#111" filter="url(#d0_4)">662</text>
<text id="v376" x="1849.30" y="1022.40" font-size="70.99" letter-spacing="3" textLength="86.70" lengthAdjust="spacingAndGlyphs" fill="#111" filter="url(#d0_4)">376</text>
<text id="x2018" x="615.30" y="1574.30" font-size="69.56" letter-spacing="5" textLength="106.20" lengthAdjust="spacingAndGlyphs" fill="#111" filter="url(#d1_2)">2018</text>
<text id="x2019" x="922.50" y="1574.30" font-size="69.56" letter-spacing="5" textLength="103.50" lengthAdjust="spacingAndGlyphs" fill="#111" filter="url(#d1_2)">2019</text>
<text id="x2020" x="1230.00" y="1574.30" font-size="69.56" letter-spacing="5" textLength="116.80" lengthAdjust="spacingAndGlyphs" fill="#111" filter="url(#d1_2)">2020</text>
<text id="x2021" x="1555.00" y="1574.30" font-size="69.56" letter-spacing="5" textLength="102.00" lengthAdjust="spacingAndGlyphs" fill="#111" filter="url(#d1_2)">2021</text>
<text id="x2022" x="1834.00" y="1574.30" font-size="69.56" letter-spacing="5" textLength="114.50" lengthAdjust="spacingAndGlyphs" fill="#111" filter="url(#d1_2)">2022</text>
<text id="f1" x="101.90" y="2064.00" font-size="49.18" letter-spacing="2.5" textLength="581.60" lengthAdjust="spacingAndGlyphs" fill="#1d1d1b" filter="url(#dclean)">Fuente: Instituto Nacional</text>
<text id="f2" x="101.70" y="2125.80" font-size="50.94" letter-spacing="2.5" textLength="426.40" lengthAdjust="spacingAndGlyphs" fill="#1d1d1b" filter="url(#dclean)">de Migración (INM)</text>
<!-- logo -->
<g transform="translate(1960.9 2059.5) rotate(-7.75)">
<rect x="-137.6" y="-63.9" width="275.2" height="127.8" fill="#000"/>
<rect x="-131.3" y="-57.6" width="262.6" height="115.2" fill="none" stroke="#fff" stroke-width="0.9"/>
<rect x="-124.6" y="-50.9" width="249.2" height="101.8" fill="none" stroke="#fff" stroke-width="2.2"/>
<text x="-109.6" y="-13.6" font-size="34.9" textLength="216" lengthAdjust="spacingAndGlyphs" fill="#fff" stroke="#fff" stroke-width="1.7">EXPEDIENTE</text>
<text x="-110" y="33.6" font-size="43.6" textLength="219" lengthAdjust="spacingAndGlyphs" fill="#fff" stroke="#fff" stroke-width="2">PÚBLICO</text>
</g>
<!-- swipe hand icon -->
<g transform="translate(1850 60) scale(0.18116)" fill="none" stroke="#444" stroke-width="28" stroke-linecap="round" stroke-linejoin="round">
<path d="M1145 367 Q900 290 665 350"/>
<path d="M590 357 L645 292 L668 403 Z" fill="#444" stroke-width="10"/>
<path d="M1015 690 L934 456 A48 48 0 0 0 843 476 L985 872 L895 828 A48 48 0 0 0 830 915 Q960 995 1080 1045 Q1230 1095 1320 980 Q1385 890 1340 780 L1300 645 Q1280 590 1215 620 L1220 668 M1215 625 Q1190 560 1110 612 L1115 665 M1110 618 Q1070 565 1005 640"/>
</g>
</svg>
</body></html>
